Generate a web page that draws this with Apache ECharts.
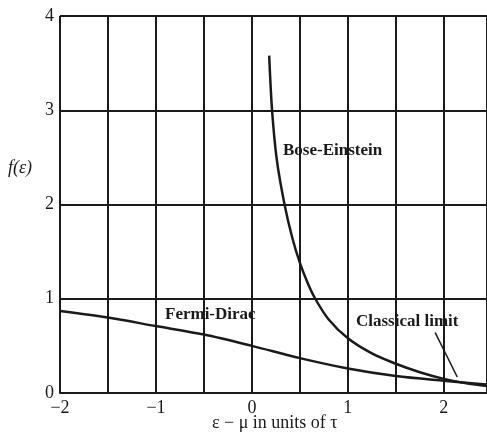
<!DOCTYPE html>
<html>
<head>
<meta charset="utf-8">
<script src="https://cdn.jsdelivr.net/npm/echarts@6/dist/echarts.min.js"></script>
<style>
    html, body {margin: 0; padding: 0; background: #fff;}
    #chart {width: 487px; height: 443px;}
</style>
</head>
<body>
<div id="chart"></div>
<script>
// values
var beX = [0.18, 0.21, 0.26, 0.34, 0.42, 0.5, 0.58, 0.66, 0.8, 1.0, 1.25, 1.5, 1.75, 2.0, 2.25, 2.45];
var beY = [3.58, 3.0, 2.47, 2.0, 1.65, 1.38, 1.17, 1.0, 0.78, 0.58, 0.42, 0.31, 0.22, 0.15, 0.10, 0.075];
var fdX = [-2, -1.5, -1, -0.5, 0, 0.5, 1, 1.5, 2, 2.45];
var fdY = [0.87, 0.80, 0.71, 0.62, 0.50, 0.37, 0.26, 0.18, 0.13, 0.09];
// leader line for "Classical limit"
var leaderX = [1.91, 2.14];
var leaderY = [0.64, 0.17];
var yTicks = [0, 1, 2, 3, 4];

var ink = '#1a1a1a';
var serif = '"Liberation Serif", "DejaVu Serif", serif';

function pairs(xs, ys) {
    var res = [];
    for (var i = 0; i < xs.length; i++) {
        res.push([xs[i], ys[i]]);
    }
    return res;
}

var myChart = echarts.init(document.getElementById('chart'));
myChart.setOption({
    animation: false,
    backgroundColor: '#fff',
    grid: {
        left: 60,
        right: 0,
        top: 16,
        bottom: 50,
        containLabel: false
    },
    xAxis: {
        type: 'value',
        min: -2,
        max: 2.45,
        interval: 0.5,
        axisLine: {lineStyle: {color: ink, width: 2}},
        axisTick: {show: false},
        axisLabel: {
            color: ink,
            fontFamily: serif,
            fontSize: 18,
            margin: 6,
            showMaxLabel: false,
            formatter: function (v) {
                if (Math.abs(v - Math.round(v)) > 1e-6 || v > 2) return '';
                return v < 0 ? '−' + Math.abs(v) : String(v);
            }
        },
        splitLine: {show: true, lineStyle: {color: ink, width: 2}}
    },
    yAxis: {
        type: 'value',
        min: yTicks[0],
        max: yTicks[yTicks.length - 1],
        interval: 1,
        axisLine: {show: true, lineStyle: {color: ink, width: 2}},
        axisTick: {show: false},
        axisLabel: {color: ink, fontFamily: serif, fontSize: 18, margin: 6},
        splitLine: {show: true, lineStyle: {color: ink, width: 2}}
    },
    graphic: [
        {type: 'text', left: 8, top: 159, style: {text: 'f(ε)', font: 'italic 18px ' + serif, fill: ink}},
        {type: 'text', left: 212, top: 414, style: {text: 'ε − μ in units of τ', font: '18px ' + serif, fill: ink}},
        {type: 'text', left: 283, top: 142, style: {text: 'Bose-Einstein', font: 'bold 17px ' + serif, fill: ink, backgroundColor: '#fff'}},
        {type: 'text', left: 165, top: 306, style: {text: 'Fermi-Dirac', font: 'bold 17px ' + serif, fill: ink, backgroundColor: '#fff'}},
        {type: 'text', left: 356, top: 313, style: {text: 'Classical limit', font: 'bold 17px ' + serif, fill: ink, backgroundColor: '#fff'}}
    ],
    series: [
        {
            name: 'Bose-Einstein',
            type: 'line',
            smooth: 0.3,
            showSymbol: false,
            lineStyle: {color: ink, width: 2.5},
            data: pairs(beX, beY),
            z: 5
        },
        {
            name: 'Fermi-Dirac',
            type: 'line',
            smooth: 0.3,
            showSymbol: false,
            lineStyle: {color: ink, width: 2.5},
            data: pairs(fdX, fdY),
            z: 5
        },
        {
            name: 'Classical limit',
            type: 'line',
            showSymbol: false,
            lineStyle: {color: ink, width: 1.5},
            data: pairs(leaderX, leaderY),
            z: 5
        }
    ]
});
</script>
</body>
</html>
